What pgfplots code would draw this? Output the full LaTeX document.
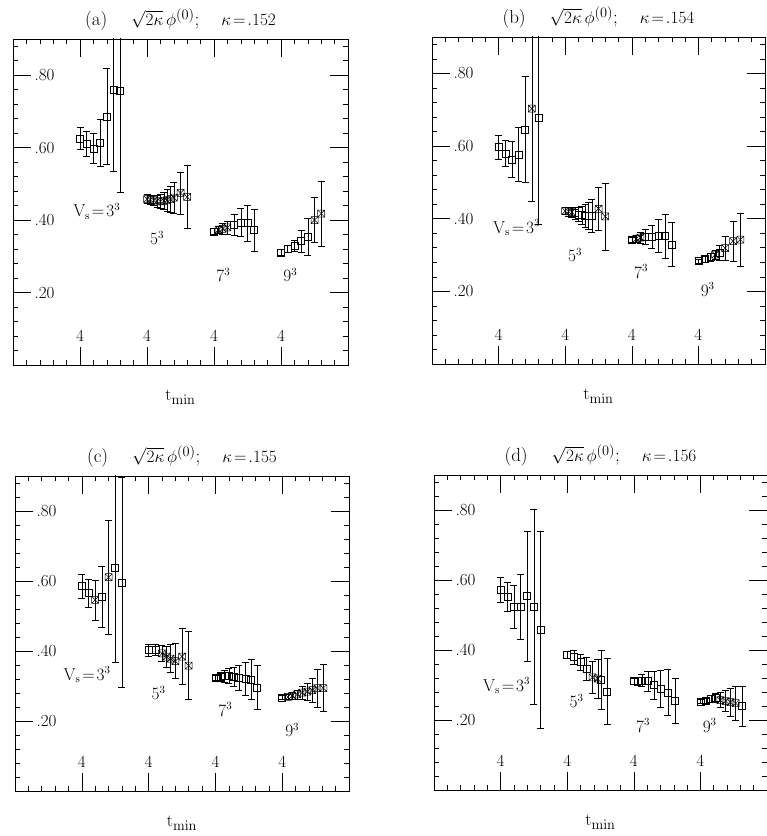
\documentclass[border=0pt]{standalone}
\usepackage{pgfplots}
\usepackage{pgfplotstable}
\pgfplotsset{compat=1.18}

% square with a cross inside, for the crossed points
\pgfdeclareplotmark{boxx}{%
  \pgfpathmoveto{\pgfqpoint{-\pgfplotmarksize}{-\pgfplotmarksize}}%
  \pgfpathlineto{\pgfqpoint{\pgfplotmarksize}{-\pgfplotmarksize}}%
  \pgfpathlineto{\pgfqpoint{\pgfplotmarksize}{\pgfplotmarksize}}%
  \pgfpathlineto{\pgfqpoint{-\pgfplotmarksize}{\pgfplotmarksize}}%
  \pgfpathclose
  \pgfpathmoveto{\pgfqpoint{-\pgfplotmarksize}{-\pgfplotmarksize}}%
  \pgfpathlineto{\pgfqpoint{\pgfplotmarksize}{\pgfplotmarksize}}%
  \pgfpathmoveto{\pgfqpoint{-\pgfplotmarksize}{\pgfplotmarksize}}%
  \pgfpathlineto{\pgfqpoint{\pgfplotmarksize}{-\pgfplotmarksize}}%
  \pgfusepathqstroke}

% u = position (groups start at 10,20,30,40 = t_min 4), v = value, e = error, c = crossed mark
\pgfplotstableread{
u v e c
10 0.625 0.030 0
11 0.611 0.035 0
12 0.598 0.042 0
13 0.614 0.064 0
14 0.686 0.133 0
15 0.759 0.224 0
16 0.756 0.278 0
20 0.458 0.012 1
20.5 0.456 0.012 1
21 0.455 0.014 1
21.5 0.452 0.016 1
22 0.452 0.020 1
22.5 0.453 0.024 1
23 0.455 0.030 1
23.5 0.458 0.036 1
24 0.462 0.042 1
25 0.475 0.058 1
26 0.464 0.087 1
30 0.369 0.008 0
30.7 0.374 0.010 1
31.3 0.376 0.014 1
32 0.380 0.018 1
33 0.387 0.030 0
34 0.394 0.038 0
35 0.392 0.050 0
36 0.372 0.058 0
40 0.311 0.008 0
41 0.320 0.010 0
42 0.330 0.015 0
43 0.342 0.030 0
44 0.354 0.050 0
45 0.400 0.062 1
46 0.418 0.090 1
}\dataA

\pgfplotstableread{
u v e c
10 0.597 0.033 0
11 0.580 0.037 0
12 0.563 0.050 0
13 0.577 0.075 0
14 0.646 0.147 0
15 0.703 0.255 1
16 0.678 0.294 0
20 0.421 0.010 1
20.5 0.420 0.012 1
21 0.418 0.013 1
21.5 0.415 0.016 0
22 0.412 0.020 0
22.5 0.410 0.025 0
23 0.409 0.032 0
23.5 0.408 0.038 0
24 0.408 0.045 0
25 0.427 0.060 1
26 0.406 0.092 1
30 0.342 0.006 0
30.7 0.345 0.010 1
31.3 0.348 0.015 1
32 0.350 0.020 0
33 0.350 0.031 0
34 0.352 0.045 0
35 0.352 0.060 0
36 0.329 0.060 0
40 0.283 0.006 0
41 0.289 0.008 0
41.8 0.294 0.010 0
42.5 0.301 0.012 1
43.2 0.306 0.020 0
44 0.319 0.033 1
45.2 0.338 0.054 1
46.3 0.342 0.072 1
}\dataB

\pgfplotstableread{
u v e c
10 0.585 0.035 0
11 0.565 0.040 0
12 0.546 0.057 1
13 0.555 0.087 0
14 0.611 0.162 1
15 0.639 0.270 0
16 0.595 0.300 0
20 0.403 0.017 0
21 0.403 0.015 0
22 0.393 0.022 1
22.7 0.384 0.030 1
23.3 0.378 0.040 1
24 0.371 0.050 1
25 0.384 0.080 1
26 0.358 0.097 1
30 0.324 0.008 0
30.75 0.326 0.012 0
31.35 0.329 0.017 0
32 0.329 0.022 0
32.75 0.326 0.028 0
33.5 0.324 0.035 0
34.5 0.321 0.048 0
35.35 0.319 0.058 0
36.25 0.296 0.063 0
40 0.267 0.006 0
40.85 0.269 0.008 1
41.5 0.272 0.010 1
42.25 0.276 0.013 1
43 0.281 0.018 1
43.75 0.284 0.025 1
44.5 0.288 0.035 1
45.25 0.294 0.055 1
46.15 0.294 0.067 1
}\dataC

\pgfplotstableread{
u v e c
10 0.573 0.036 0
11 0.552 0.042 0
12 0.523 0.062 0
13 0.523 0.092 0
14 0.554 0.185 0
15 0.523 0.278 0
16 0.458 0.282 0
20 0.386 0.010 0
21 0.380 0.020 0
22 0.365 0.024 0
22.9 0.346 0.033 0
23.8 0.322 0.045 1
24.6 0.318 0.056 1
25.1 0.315 0.085 0
26 0.282 0.093 0
30 0.311 0.008 0
30.6 0.311 0.012 0
31.2 0.313 0.018 0
32.1 0.311 0.028 0
33 0.300 0.040 0
34 0.289 0.052 0
35.1 0.279 0.065 0
36.2 0.254 0.064 0
40 0.253 0.006 0
40.85 0.255 0.008 0
41.6 0.260 0.010 0
42.3 0.263 0.012 0
43 0.257 0.022 1
43.8 0.254 0.030 1
44.5 0.251 0.040 1
45.3 0.248 0.049 1
46.25 0.240 0.057 0
}\dataD

\tikzset{lab/.style={font=\fontsize{16}{19}\selectfont, inner sep=0pt}}
\newcommand{\ptitle}[2]{(#1)\hspace{24pt}$\sqrt{2\kappa}\,\phi^{(0)}$;\hspace{22pt}$\kappa\!=\!.#2$}

\pgfplotsset{
  panel/.style={
    scale only axis, anchor=north west,
    xmin=0, xmax=50, ymin=0, ymax=0.9,
    xtick={10,20,30,40}, xticklabels={4,4,4,4},
    ytick={0.2,0.4,0.6,0.8}, yticklabels={.20,.40,.60,.80},
    minor xtick={2,4,6,8,12,14,16,18,22,24,26,28,32,34,36,38,42,44,46,48},
    minor ytick={0.04,0.08,0.12,0.16,0.24,0.28,0.32,0.36,0.44,0.48,0.52,0.56,0.64,0.68,0.72,0.76,0.84,0.88},
    tick align=inside,
    major tick length=18pt, minor tick length=5pt,
    tick style={black, line width=0.5pt},
    axis line style={line width=0.6pt},
    xticklabel style={anchor=south, yshift=20pt},
    yticklabel style={anchor=west, xshift=18pt},
    ticklabel style={font=\fontsize{17}{20}\selectfont},
    title style={at={(0.5,1)}, anchor=base, yshift=7pt, inner sep=0pt, font=\fontsize{19}{21}\selectfont},
    xlabel={$\mathrm{t_{min}}$},
    xlabel style={at={(axis description cs:0.5,0)}, anchor=base, yshift=-36pt, font=\fontsize{19}{22}\selectfont},
    clip mode=individual,
  },
  pts/.style={
    only marks, scatter, point meta=explicit symbolic,
    scatter/classes={0={mark=square, black}, 1={mark=boxx, black}},
    mark size=3.5pt, line width=0.5pt,
    error bars/.cd, y dir=both, y explicit,
    error bar style={black, line width=0.5pt},
    error mark options={rotate=90, mark size=3.5pt, black, line width=0.5pt},
  },
}

\newcommand{\groupnames}[4]{%
  \node[lab] at (axis cs:#1) {$\mathrm{V_s\!=\!3^3}$};
  \node[lab] at (axis cs:#2) {$5^3$};
  \node[lab] at (axis cs:#3) {$7^3$};
  \node[lab] at (axis cs:#4) {$9^3$};
}

\begin{document}
\begin{tikzpicture}
\useasboundingbox (0pt,0pt) rectangle (767pt,836pt);

\begin{axis}[panel, at={(13pt,797pt)}, width=335pt, height=326pt,
  title={\ptitle{a}{152}}]
  \addplot[pts] table[x=u, y=v, y error=e, meta=c] {\dataA};
  \groupnames{12.5,0.425}{21.5,0.351}{31.4,0.249}{41.4,0.249}
\end{axis}

\begin{axis}[panel, at={(432pt,799pt)}, width=333pt, height=327pt,
  title={\ptitle{b}{154}}]
  \addplot[pts] table[x=u, y=v, y error=e, meta=c] {\dataB};
  \groupnames{12.7,0.375}{21.5,0.301}{31.4,0.255}{41.4,0.205}
\end{axis}

\begin{axis}[panel, at={(15pt,360pt)}, width=334pt, height=315pt,
  title={\ptitle{c}{155}}]
  \addplot[pts] table[x=u, y=v, y error=e, meta=c] {\dataC};
  \groupnames{10.8,0.332}{21.5,0.281}{31.5,0.233}{41.5,0.174}
\end{axis}

\begin{axis}[panel, at={(434pt,361pt)}, width=333pt, height=315pt,
  title={\ptitle{d}{156}}]
  \addplot[pts] table[x=u, y=v, y error=e, meta=c] {\dataD};
  \groupnames{10.9,0.298}{21.4,0.255}{31.4,0.184}{41.4,0.184}
\end{axis}
\end{tikzpicture}
\end{document}
